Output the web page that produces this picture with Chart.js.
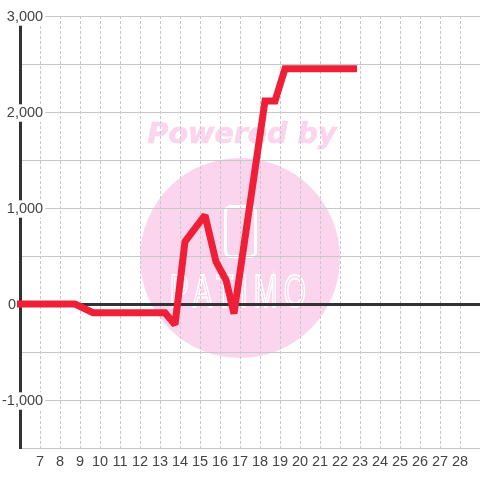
<!DOCTYPE html>
<html>
<head>
<meta charset="utf-8">
<style>
    html, body { margin: 0; padding: 0; background: #fff; }
    canvas { display: block; }
</style>
<script src="https://cdn.jsdelivr.net/npm/chart.js@4/dist/chart.umd.min.js"></script>
</head>
<body>
<canvas id="myChart" width="480" height="480"></canvas>
<script>
let x_values = [5.85, 8.75, 9.65, 13.25, 13.75, 14.25, 15.25, 15.8, 16.3, 16.7, 18.25, 18.75, 19.25, 22.85];
let y_values = [0, 0, -90, -90, -215, 650, 925, 440, 250, -100, 2115, 2115, 2450, 2450];
let x_tick_labels = [7, 8, 9, 10, 11, 12, 13, 14, 15, 16, 17, 18, 19, 20, 21, 22, 23, 24, 25, 26, 27, 28];
let y_tick_labels = [-1000, 0, 1000, 2000, 3000];

let points = [];
for (let i = 0; i < x_values.length; i++) {
    points.push({x: x_values[i], y: y_values[i]});
}

// pale logo sitting behind the grid
let watermark = {
    id: 'watermark',
    beforeDraw(chart) {
        let ctx = chart.ctx;
        ctx.save();
        ctx.fillStyle = '#fff';
        ctx.fillRect(0, 0, chart.width, chart.height);

        ctx.fillStyle = '#fbd5ed';
        ctx.beginPath();
        ctx.arc(240, 258, 100, 0, Math.PI * 2);
        ctx.fill();

        ctx.font = 'italic bold 28.5px "DejaVu Sans"';
        ctx.textAlign = 'center';
        ctx.textBaseline = 'middle';
        ctx.strokeStyle = '#fbd5ed';
        ctx.lineWidth = 0.7;
        ctx.fillText('Powered by', 242, 136);
        ctx.strokeText('Powered by', 242, 136);

        ctx.strokeStyle = '#fff';
        ctx.lineWidth = 3;
        ctx.beginPath();
        ctx.roundRect(225.5, 206.5, 30, 50, 5);
        ctx.stroke();

        // squeezed so the letters come out tall and narrow
        ctx.lineWidth = 2;
        ctx.translate(241, 307);
        ctx.scale(0.62, 1);
        ctx.font = '46px "Liberation Sans"';
        ctx.letterSpacing = '10px';
        ctx.textBaseline = 'alphabetic';
        ctx.strokeText('PATIMO', 0, 0);
        ctx.restore();
    },
    beforeDatasetsDraw(chart) {
        // sharp turns get a flat end instead of a long spike
        chart.ctx.miterLimit = 2;
    }
};

let config = {
    type: 'line',
    data: {
        datasets: [
            {
                data: points,
                borderColor: '#f01f38',
                borderWidth: 7,
                borderJoinStyle: 'miter',
                borderCapStyle: 'butt',
                pointRadius: 0,
                tension: 0,
                clip: false
            }
        ]
    },
    options: {
        responsive: false,
        animation: false,
        layout: {
            padding: {top: 16, right: 0, bottom: 0, left: 0}
        },
        plugins: {
            legend: {display: false},
            tooltip: {enabled: false}
        },
        scales: {
            x: {
                type: 'linear',
                min: 6,
                max: 29,
                afterFit(scale) {
                    scale.height = 32;
                    scale.paddingLeft = 0;
                    scale.paddingRight = 0;
                },
                grid: {color: '#c8c8c8', drawTicks: false},
                border: {display: false, dash: [3, 2]},
                ticks: {
                    stepSize: 1,
                    autoSkip: false,
                    maxRotation: 0,
                    padding: 5,
                    color: '#444',
                    font: {family: 'Liberation Sans', size: 14.5},
                    callback(value) {
                        return x_tick_labels.includes(value) ? String(value) : '';
                    }
                }
            },
            y: {
                min: -1500,
                max: 3000,
                afterFit(scale) {
                    scale.width = 20;
                    scale.paddingTop = 0;
                    scale.paddingBottom = 0;
                },
                grid: {
                    drawTicks: false,
                    color(context) {
                        return context.tick.value == 0 ? '#333' : '#c8c8c8';
                    },
                    lineWidth(context) {
                        return context.tick.value == 0 ? 3 : 1;
                    }
                },
                border: {color: '#333', width: 3},
                ticks: {
                    stepSize: 500,
                    autoSkip: false,
                    mirror: true,
                    crossAlign: 'far',
                    padding: -18,
                    labelOffset: 1,
                    color: '#444',
                    font: {family: 'Liberation Sans', size: 14.5},
                    backdropColor: '#fff',
                    backdropPadding: {top: 0, right: 2, bottom: 0, left: 2},
                    showLabelBackdrop(context) {
                        return y_tick_labels.includes(context.tick.value) && context.tick.value != 0;
                    },
                    callback(value) {
                        if (!y_tick_labels.includes(value)) {
                            return '';
                        }
                        // the zero label sits left of the axis in the original
                        return value == 0 ? '0      \u2009' : value.toLocaleString('en-US');
                    }
                }
            }
        }
    },
    plugins: [watermark]
};

window.chart = new Chart(document.getElementById('myChart'), config);
</script>
</body>
</html>
